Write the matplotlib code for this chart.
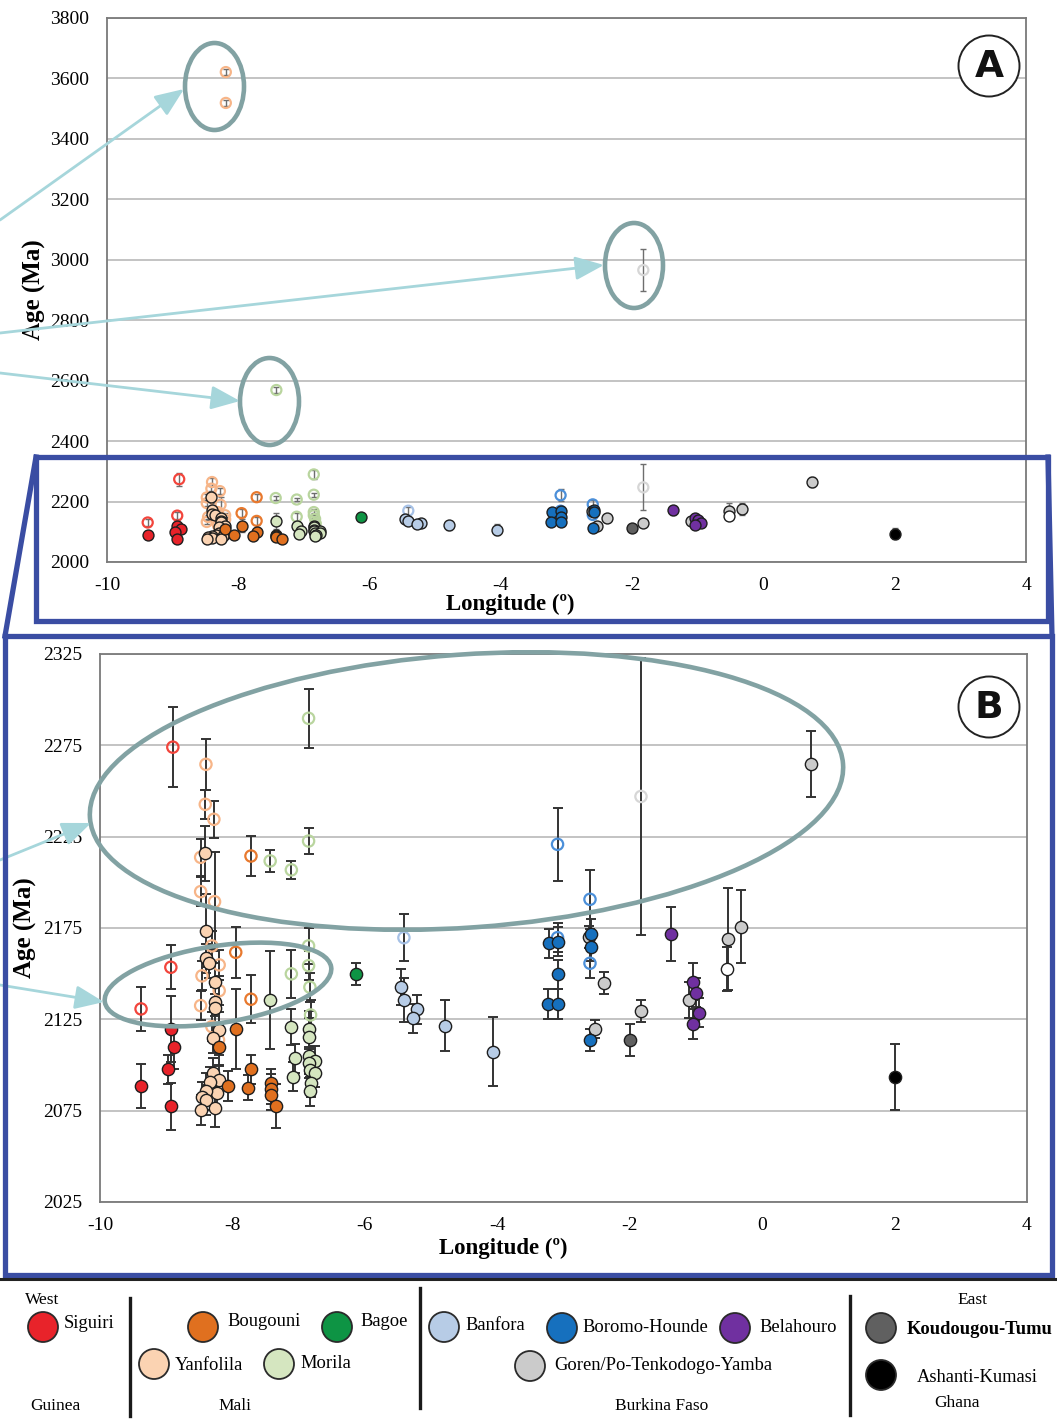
import matplotlib
matplotlib.use("Agg")
import matplotlib.pyplot as plt
from matplotlib.patches import Ellipse, Circle

plt.rcParams['font.family'] = ['Liberation Serif', 'DejaVu Serif']
plt.rcParams['axes.unicode_minus'] = False

# ---------------- data: longitude (deg), age (Ma), 2-sigma error (Ma) ----------------
# Siguiri (Guinea)
siguiri_lon = [-9.38, -8.93, -8.88, -8.97, -8.93]
siguiri_age = [2088.5, 2119.6, 2109.7, 2097.7, 2077.4]
siguiri_err = [12, 18, 12, 8, 13]
siguiri_open_lon = [-9.38, -8.93, -8.90]
siguiri_open_age = [2130.7, 2153.5, 2274.0]
siguiri_open_err = [12, 12, 22]

# Yanfolila (Mali)
yanfolila_lon = [-8.41, -8.40, -8.40, -8.36, -8.26, -8.26, -8.27, -8.21, -8.29,
                 -8.29, -8.21, -8.34, -8.24, -8.40, -8.46, -8.40, -8.48, -8.27]
yanfolila_age = [2215.9, 2173.6, 2158.4, 2155.7, 2145.6, 2134.7, 2131.0, 2119.2, 2114.6,
                 2095.8, 2091.8, 2090.9, 2084.6, 2085.5, 2082.7, 2080.9, 2075.4, 2076.3]
yanfolila_err = [15, 20, 8, 8, 10, 8, 8, 10, 8, 8, 8, 8, 8, 10, 8, 8, 8, 10]
yanfolila_open_lon = [-8.40, -8.41, -8.28, -8.48, -8.48, -8.27, -8.31, -8.20, -8.46,
                      -8.20, -8.48, -8.31, -8.21, -8.19, -8.19]
yanfolila_open_age = [2264.6, 2242.7, 2234.5, 2213.7, 2194.9, 2189.4, 2165.2, 2154.8, 2148.8,
                      2140.7, 2132.5, 2121.0, 2113.7, 3621.0, 3519.0]
yanfolila_open_err = [14, 8, 10, 10, 8, 27, 8, 8, 8, 8, 8, 8, 8, 10, 10]

# Bougouni (Mali)
bougouni_lon = [-7.95, -8.21, -8.07, -7.72, -7.77, -7.42, -7.42, -7.42, -7.34]
bougouni_age = [2119.8, 2109.7, 2088.5, 2097.7, 2087.6, 2090.0, 2086.8, 2083.6, 2077.6]
bougouni_err = [22, 10, 8, 8, 7, 8, 8, 8, 12]
bougouni_open_lon = [-7.72, -7.95, -7.72]
bougouni_open_age = [2214.4, 2161.7, 2136.0]
bougouni_open_err = [11, 14, 13]

# Bagoe (Mali)
bagoe_lon = [-6.13]
bagoe_age = [2149.7]
bagoe_err = [6]

# Morila (Mali)
morila_lon = [-7.43, -7.11, -6.85, -6.85, -7.05, -6.85, -6.75, -6.85, -6.83,
              -6.75, -7.08, -6.82, -6.83]
morila_age = [2135.6, 2120.7, 2119.6, 2115.5, 2103.7, 2105.0, 2102.4, 2101.0, 2097.0,
              2095.8, 2093.6, 2090.4, 2085.5]
morila_err = [27, 10, 10, 10, 8, 10, 8, 8, 8, 8, 8, 8, 8]
morila_open_lon = [-6.85, -6.85, -7.43, -7.11, -6.85, -6.85, -7.11, -6.83, -6.82, -7.42]
morila_open_age = [2289.8, 2222.6, 2211.7, 2206.8, 2165.2, 2154.4, 2149.9, 2142.6, 2127.4, 2569.0]
morila_open_err = [16, 7, 6, 5, 10, 8, 13, 8, 8, 10]

# Banfora (Burkina Faso)
banfora_lon = [-5.46, -5.41, -5.22, -5.28, -4.79, -4.06]
banfora_age = [2142.6, 2135.6, 2130.5, 2125.6, 2121.4, 2107.3]
banfora_err = [10, 12, 8, 8, 14, 19]
banfora_open_lon = [-5.41]
banfora_open_age = [2169.7]
banfora_open_err = [13]

# Boromo-Hounde (Burkina Faso)
boromo_lon = [-3.22, -3.08, -3.09, -3.23, -3.08, -2.58, -2.58, -2.60]
boromo_age = [2166.6, 2167.5, 2149.7, 2133.4, 2133.4, 2171.7, 2164.8, 2113.7]
boromo_err = [8, 8, 8, 8, 8, 8, 8, 6]
boromo_open_lon = [-3.09, -3.09, -2.60, -2.60]
boromo_open_age = [2220.8, 2169.7, 2190.7, 2155.7]
boromo_open_err = [20, 8, 16, 8]

# Goren / Po-Tenkodogo-Yamba (Burkina Faso)
goren_lon = [-2.61, -2.39, -2.53, -1.83, -1.10, -0.52, -0.32, 0.74]
goren_age = [2170.0, 2144.8, 2119.6, 2129.8, 2135.6, 2168.8, 2175.8, 2264.8]
goren_err = [6, 6, 5, 6, 10, 28, 20, 18]
goren_open_lon = [-1.83, -1.83]
goren_open_age = [2247.0, 2966.0]
goren_open_err = [76, 70]
goren_white_lon = [-0.53]
goren_white_age = [2152.6]
goren_white_err = [12]

# Koudougou-Tumu (Burkina Faso)
koudougou_lon = [-2.00]
koudougou_age = [2113.7]
koudougou_err = [9]

# Belahouro (Burkina Faso)
belahouro_lon = [-1.37, -1.04, -1.00, -0.95, -1.04]
belahouro_age = [2171.7, 2145.6, 2139.6, 2128.7, 2122.5]
belahouro_err = [15, 10, 8, 8, 8]

# Ashanti-Kumasi (Ghana)
ashanti_lon = [2.01]
ashanti_age = [2093.5]
ashanti_err = [18]

x_ticks = [-10, -8, -6, -4, -2, 0, 2, 4]
yA_ticks = list(range(2000, 3801, 200))
yB_ticks = list(range(2025, 2326, 50))

C_SIG, C_SIG_O = '#E8232A', '#F2453C'
C_YAN, C_YAN_O = '#FBD3B2', '#F7B588'
C_BOU, C_BOU_O = '#E0701F', '#E8792E'
C_BAG = '#0E9444'
C_MOR, C_MOR_O = '#D5E6C0', '#B9D59E'
C_BAN, C_BAN_O = '#B7CCE6', '#A6C1E6'
C_BOR, C_BOR_O = '#1670BE', '#4B8FD9'
C_GOR, C_GOR_O = '#CBCBCB', '#D6D6D6'
C_KOU = '#606060'
C_BEL = '#7030A0'
C_ASH = '#000000'

series = [
    (siguiri_lon, siguiri_age, siguiri_err, C_SIG, False),
    (siguiri_open_lon, siguiri_open_age, siguiri_open_err, C_SIG_O, True),
    (yanfolila_open_lon, yanfolila_open_age, yanfolila_open_err, C_YAN_O, True),
    (yanfolila_lon, yanfolila_age, yanfolila_err, C_YAN, False),
    (bougouni_open_lon, bougouni_open_age, bougouni_open_err, C_BOU_O, True),
    (bougouni_lon, bougouni_age, bougouni_err, C_BOU, False),
    (bagoe_lon, bagoe_age, bagoe_err, C_BAG, False),
    (morila_open_lon, morila_open_age, morila_open_err, C_MOR_O, True),
    (morila_lon, morila_age, morila_err, C_MOR, False),
    (banfora_open_lon, banfora_open_age, banfora_open_err, C_BAN_O, True),
    (banfora_lon, banfora_age, banfora_err, C_BAN, False),
    (boromo_open_lon, boromo_open_age, boromo_open_err, C_BOR_O, True),
    (goren_lon, goren_age, goren_err, C_GOR, False),
    (boromo_lon, boromo_age, boromo_err, C_BOR, False),
    (goren_open_lon, goren_open_age, goren_open_err, C_GOR_O, True),
    (goren_white_lon, goren_white_age, goren_white_err, '#FFFFFF', False),
    (koudougou_lon, koudougou_age, koudougou_err, C_KOU, False),
    (belahouro_lon, belahouro_age, belahouro_err, C_BEL, False),
    (ashanti_lon, ashanti_age, ashanti_err, C_ASH, False),
]

W, H = 1057, 1425
fig = plt.figure(figsize=(W / 100, H / 100), dpi=100)


def box(l, t, r, b):
    return [l / W, 1 - b / H, (r - l) / W, (b - t) / H]


axA = fig.add_axes(box(107, 18, 1026, 562))
axB = fig.add_axes(box(100, 654, 1027, 1202))


def style(ax, yticks, ylim):
    ax.set_xlim(-10, 4)
    ax.set_ylim(*ylim)
    ax.set_xticks(x_ticks)
    ax.set_yticks(yticks)
    ax.tick_params(length=0, labelsize=14, pad=11)
    ax.tick_params(axis='y', pad=13)
    ax.grid(axis='y', color='#BEBEBE', lw=1.3)
    ax.set_axisbelow(True)
    for s in ax.spines.values():
        s.set_color('#7A7A7A')
        s.set_linewidth(1.3)
    ax.set_ylabel('Age (Ma)', fontsize=18, fontweight='bold')
    ax.set_xlabel('Longitude (\u00ba)', fontsize=16.5, fontweight='bold')


style(axA, yA_ticks, (2000, 3800))
style(axB, yB_ticks, (2025, 2325))
axA.yaxis.set_label_coords(-0.066, 0.5)
axA.xaxis.set_label_coords(0.4385, -0.058)
axB.yaxis.set_label_coords(-0.068, 0.5)
axB.xaxis.set_label_coords(0.4347, -0.066)


def draw(ax, size, eb_color, eb_lw, cap):
    for lon, age, err, col, hollow in series:
        ax.errorbar(lon, age, yerr=err, fmt='none', ecolor=eb_color,
                    elinewidth=eb_lw, capsize=cap, capthick=eb_lw, zorder=2)
        if hollow:
            ax.scatter(lon, age, s=size * 0.85, facecolors='none', edgecolors=col,
                       linewidths=1.6, zorder=3)
        else:
            ax.scatter(lon, age, s=size, facecolors=col, edgecolors='#1E1E1E',
                       linewidths=1.0, zorder=4)


draw(axA, 62, '#6E6E6E', 1.0, 2.5)
draw(axB, 78, '#333333', 1.4, 3.5)

# ---------------- overlay: callouts, zoom frame and legend ----------------
ov = fig.add_axes([0, 0, 1, 1], facecolor='none')
ov.set_xlim(0, W)
ov.set_ylim(H, 0)
ov.axis('off')

TEAL = '#82A2A3'
CYAN = '#A6D6DB'
BLUE = '#3A4DA3'

for cx, cy, w, h, ang in [(214.5, 86.5, 59, 87, 0), (634, 265.5, 58, 85, 0),
                          (269.5, 401.5, 59, 87, 0), (466.5, 791, 755, 273, -4.1),
                          (218, 984.5, 229, 77, -8.8)]:
    ov.add_patch(Ellipse((cx, cy), w, h, angle=ang, fill=False, ec=TEAL, lw=3.3, zorder=5))

for (x0, y0), (x1, y1) in [((0, 220), (184, 89)), ((0, 333), (604, 265)),
                           ((0, 373), (240, 401)), ((0, 860), (91, 823)),
                           ((0, 985), (104, 1002))]:
    ov.annotate('', xy=(x1, y1), xytext=(x0, y0),
                arrowprops=dict(arrowstyle='-|>,head_length=1.1,head_width=0.45',
                                color=CYAN, lw=2.0, mutation_scale=16,
                                shrinkA=0, shrinkB=0), zorder=6)

# zoom frame linking the two panels
ov.plot([36, 1048, 1048, 36, 36], [457, 457, 621, 621, 457], color=BLUE, lw=3.8,
        solid_joinstyle='miter', zorder=7)
ov.plot([5, 1052, 1052, 5, 5], [636, 636, 1275, 1275, 636], color=BLUE, lw=3.8,
        solid_joinstyle='miter', zorder=7)
ov.plot([36, 5], [457, 636], color=BLUE, lw=3.8, zorder=7)
ov.plot([1048, 1052], [457, 636], color=BLUE, lw=3.8, zorder=7)

# panel letters
for cy, letter in [(66, 'A'), (707, 'B')]:
    ov.add_patch(Circle((989, cy), 30.5, fill=True, fc='white', ec='#222222', lw=1.4, zorder=6))
    ov.text(989, cy + 1, letter, ha='center', va='center', fontsize=27,
            family='DejaVu Sans', fontweight='heavy', color='#111111', zorder=7)

# legend strip
ov.plot([0, W], [1279, 1279], color='#222222', lw=2.2, zorder=7)
for x, y0, y1 in [(130, 1298, 1416), (420, 1288, 1408), (850, 1296, 1415)]:
    ov.plot([x, x], [y0, y1], color='#1A1A1A', lw=2.4, zorder=7)

legend_names = ['Siguiri', 'Bougouni', 'Bagoe', 'Yanfolila', 'Morila', 'Banfora',
                'Boromo-Hounde', 'Belahouro', 'Goren/Po-Tenkodogo-Yamba',
                'Koudougou-Tumu', 'Ashanti-Kumasi']
legend_colors = [C_SIG, C_BOU, C_BAG, C_YAN, C_MOR, C_BAN, C_BOR, C_BEL, C_GOR, C_KOU, C_ASH]
legend_marks = [(43, 1327), (203, 1327), (337, 1327), (154, 1364), (279, 1364), (444, 1327),
                (562, 1328), (735, 1328), (530, 1366), (881, 1328), (881, 1375)]
legend_text = [(64, 1324), (227, 1322), (360, 1322), (175, 1366), (300, 1363), (465, 1326),
               (582, 1328), (759, 1328), (554, 1366), (907, 1329), (917, 1377)]

for name, col, (mx, my), (tx, ty) in zip(legend_names, legend_colors, legend_marks, legend_text):
    ov.add_patch(Circle((mx, my), 15, fc=col, ec='#2A2A2A', lw=1.3, zorder=7))
    weight = 'bold' if name == 'Koudougou-Tumu' else 'normal'
    ov.text(tx, ty, name, ha='left', va='center', fontsize=13.3, fontweight=weight, zorder=7)

for x, y, s in [(42, 1300, 'West'), (55, 1406, 'Guinea'), (235, 1406, 'Mali'),
                (662, 1406, 'Burkina Faso'), (972, 1300, 'East'), (957, 1403, 'Ghana')]:
    ov.text(x, y, s, ha='center', va='center', fontsize=12.5, zorder=7)

fig.savefig('out.png', dpi=100)
